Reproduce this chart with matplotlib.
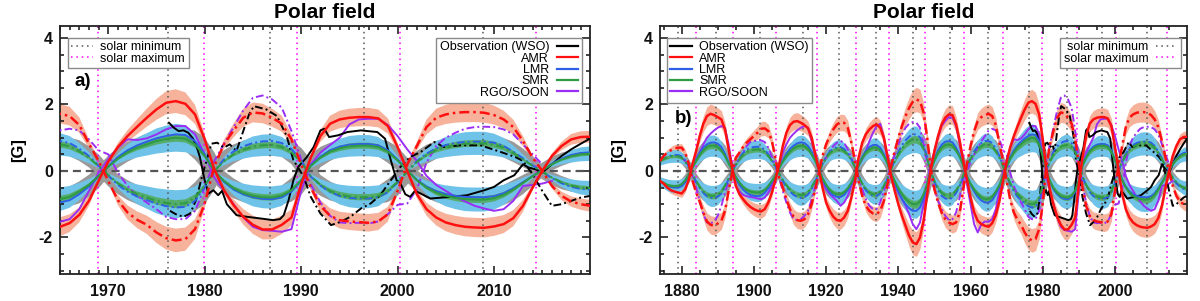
import numpy as np
import matplotlib
matplotlib.use("Agg")
import matplotlib.pyplot as plt
from matplotlib.ticker import MultipleLocator
from matplotlib.lines import Line2D

plt.rcParams['font.family'] = ['Liberation Sans', 'DejaVu Sans']
plt.rcParams['font.weight'] = 'bold'
plt.rcParams['axes.unicode_minus'] = False

nan = np.nan
years = np.arange(1874, 2021)

# AMR, north (solid) and south (dash-dot)
amr_n = [-0.30, -0.38, -0.50, -0.58, -0.62, -0.65,
         -0.68, -0.55, -0.25, 0.20, 0.60, 1.05, 1.42, 1.65, 1.72, 1.68,
         1.62, 1.55, 1.25, 0.65, 0.08, -0.45, -0.70, -0.85, -0.98, -1.08,
         -1.15, -1.20, -1.22, -1.15, -0.95, -0.65, -0.25, 0.20, 0.75, 1.15,
         1.38, 1.48, 1.50, 1.45, 1.38, 1.28, 1.00, 0.50, 0.05, -0.50,
         -0.95, -1.20, -1.38, -1.48, -1.50, -1.40, -1.20, -0.80, -0.30, 0.40,
         0.85, 1.10, 1.25, 1.35, 1.40, 1.30, 1.00, 0.45, -0.15, -0.60,
         -1.00, -1.35, -1.65, -1.95, -2.15, -2.20, -2.00, -1.50, -0.70, 0.05,
         0.60, 1.05, 1.40, 1.60, 1.70, 1.68, 1.40, 0.90, 0.30, -0.25,
         -0.80, -1.25, -1.50, -1.60, -1.65, -1.68, -1.57, -1.32, -0.90, -0.30,
         0.28, 0.72, 1.05, 1.33, 1.60, 1.85, 2.05, 2.10, 2.02, 1.70,
         0.95, 0.05, -0.58, -1.03, -1.38, -1.62, -1.76, -1.76, -1.62, -1.40,
         -0.40, 0.40, 1.05, 1.42, 1.55, 1.60, 1.62, 1.62, 1.58, 1.35,
         0.72, 0.00, -0.70, -1.15, -1.40, -1.55, -1.63, -1.68, -1.70, -1.71,
         -1.67, -1.60, -1.42, -1.05, -0.50, 0.00, 0.45, 0.75, 0.95, 1.02,
         1.03]
amr_s = [0.30, 0.45, 0.55, 0.62, 0.68, 0.70,
         0.70, 0.55, 0.20, -0.30, -0.65, -0.92, -1.25, -1.52, -1.62, -1.65,
         -1.58, -1.50, -1.20, -0.60, -0.05, 0.40, 0.55, 0.72, 0.85, 0.95,
         1.05, 1.15, 1.27, 1.28, 1.20, 0.90, 0.35, -0.20, -0.50, -0.85,
         -1.15, -1.38, -1.48, -1.50, -1.45, -1.30, -1.00, -0.55, -0.05, 0.45,
         0.80, 1.05, 1.25, 1.40, 1.46, 1.45, 1.30, 0.85, 0.30, -0.30,
         -0.75, -1.05, -1.20, -1.28, -1.30, -1.20, -0.90, -0.40, 0.15, 0.60,
         1.00, 1.35, 1.65, 1.90, 2.08, 2.15, 2.10, 1.75, 1.00, 0.05,
         -0.55, -0.95, -1.25, -1.45, -1.55, -1.60, -1.55, -1.25, -0.55, 0.20,
         0.75, 1.20, 1.50, 1.62, 1.68, 1.72, 1.65, 1.38, 0.82, 0.30,
         -0.30, -0.88, -1.25, -1.47, -1.62, -1.85, -2.02, -2.09, -2.05, -1.75,
         -0.98, 0.15, 0.80, 1.22, 1.60, 1.76, 1.73, 1.60, 1.42, 0.95,
         0.20, -0.50, -1.05, -1.35, -1.48, -1.52, -1.54, -1.56, -1.52, -1.30,
         -0.60, 0.20, 0.75, 1.32, 1.60, 1.70, 1.75, 1.77, 1.77, 1.75,
         1.68, 1.55, 1.32, 0.90, 0.40, 0.00, -0.45, -0.75, -0.92, -1.00,
         -1.05]

# LMR
lmr_n = [-0.30, -0.38, -0.44, -0.48, -0.50, -0.50,
         -0.46, -0.34, -0.14, 0.12, 0.35, 0.55, 0.70, 0.80, 0.85, 0.86,
         0.82, 0.72, 0.52, 0.26, 0.03, -0.22, -0.42, -0.56, -0.66, -0.72,
         -0.75, -0.76, -0.74, -0.66, -0.52, -0.34, -0.14, 0.10, 0.32, 0.52,
         0.66, 0.76, 0.83, 0.86, 0.84, 0.75, 0.58, 0.34, 0.06, -0.25,
         -0.47, -0.63, -0.73, -0.78, -0.78, -0.72, -0.58, -0.38, -0.13, 0.17,
         0.42, 0.60, 0.72, 0.78, 0.78, 0.70, 0.50, 0.25, -0.08, -0.36,
         -0.62, -0.84, -1.00, -1.12, -1.20, -1.20, -1.10, -0.84, -0.45, 0.03,
         0.36, 0.62, 0.79, 0.88, 0.90, 0.86, 0.70, 0.47, 0.17, -0.17,
         -0.42, -0.62, -0.78, -0.89, -0.95, -0.95, -0.88, -0.70, -0.47, -0.17,
         0.14, 0.42, 0.62, 0.77, 0.88, 0.98, 1.05, 1.10, 1.08, 0.90,
         0.50, 0.00, -0.33, -0.56, -0.70, -0.79, -0.84, -0.85, -0.79, -0.62,
         -0.30, 0.17, 0.43, 0.62, 0.73, 0.79, 0.81, 0.81, 0.77, 0.62,
         0.34, 0.02, -0.27, -0.47, -0.61, -0.70, -0.75, -0.78, -0.79, -0.79,
         -0.76, -0.67, -0.52, -0.34, -0.15, 0.02, 0.22, 0.37, 0.48, 0.54,
         0.56]
lmr_s = [0.30, 0.37, 0.42, 0.46, 0.48, 0.48,
         0.44, 0.32, 0.13, -0.12, -0.33, -0.52, -0.66, -0.76, -0.80, -0.81,
         -0.77, -0.68, -0.49, -0.25, -0.03, 0.21, 0.40, 0.54, 0.64, 0.70,
         0.72, 0.73, 0.71, 0.64, 0.50, 0.33, 0.13, -0.10, -0.30, -0.49,
         -0.62, -0.72, -0.78, -0.81, -0.79, -0.71, -0.55, -0.32, -0.06, 0.23,
         0.43, 0.58, 0.67, 0.72, 0.72, 0.66, 0.54, 0.35, 0.12, -0.16,
         -0.40, -0.58, -0.69, -0.75, -0.75, -0.67, -0.48, -0.24, 0.07, 0.33,
         0.57, 0.77, 0.92, 1.03, 1.10, 1.10, 1.01, 0.77, 0.41, -0.03,
         -0.34, -0.58, -0.75, -0.83, -0.85, -0.81, -0.66, -0.45, -0.16, 0.16,
         0.40, 0.59, 0.74, 0.84, 0.90, 0.90, 0.84, 0.67, 0.45, 0.16,
         -0.14, -0.42, -0.62, -0.77, -0.88, -0.98, -1.06, -1.10, -1.08, -0.90,
         -0.50, 0.00, 0.35, 0.59, 0.74, 0.84, 0.89, 0.90, 0.84, 0.66,
         0.32, -0.17, -0.44, -0.63, -0.75, -0.81, -0.83, -0.83, -0.79, -0.64,
         -0.35, -0.02, 0.30, 0.52, 0.68, 0.78, 0.84, 0.87, 0.88, 0.88,
         0.85, 0.75, 0.58, 0.38, 0.17, -0.02, -0.22, -0.37, -0.48, -0.54,
         -0.56]

# SMR
smr_n = [-0.30, -0.36, -0.42, -0.45, -0.46, -0.45,
         -0.40, -0.28, -0.10, 0.10, 0.30, 0.48, 0.62, 0.72, 0.76, 0.76,
         0.72, 0.62, 0.45, 0.22, 0.03, -0.18, -0.35, -0.48, -0.57, -0.62,
         -0.64, -0.65, -0.63, -0.57, -0.45, -0.30, -0.12, 0.08, 0.28, 0.45,
         0.58, 0.68, 0.74, 0.76, 0.74, 0.66, 0.50, 0.30, 0.05, -0.22,
         -0.42, -0.57, -0.66, -0.70, -0.70, -0.64, -0.52, -0.35, -0.12, 0.15,
         0.38, 0.55, 0.65, 0.70, 0.70, 0.62, 0.45, 0.22, -0.06, -0.30,
         -0.52, -0.70, -0.84, -0.94, -1.00, -1.00, -0.92, -0.70, -0.38, 0.02,
         0.32, 0.55, 0.70, 0.78, 0.80, 0.76, 0.62, 0.42, 0.15, -0.15,
         -0.38, -0.56, -0.70, -0.80, -0.85, -0.85, -0.78, -0.62, -0.42, -0.15,
         0.12, 0.37, 0.56, 0.70, 0.80, 0.90, 0.96, 1.00, 0.97, 0.80,
         0.45, 0.00, -0.30, -0.52, -0.66, -0.75, -0.79, -0.80, -0.74, -0.58,
         -0.28, 0.15, 0.40, 0.58, 0.68, 0.74, 0.76, 0.76, 0.72, 0.58,
         0.32, 0.02, -0.28, -0.50, -0.65, -0.75, -0.81, -0.85, -0.86, -0.86,
         -0.82, -0.72, -0.56, -0.36, -0.16, 0.02, 0.20, 0.34, 0.44, 0.50,
         0.52]
smr_s = [0.30, 0.36, 0.41, 0.44, 0.45, 0.44,
         0.40, 0.28, 0.10, -0.10, -0.30, -0.48, -0.62, -0.71, -0.75, -0.75,
         -0.71, -0.61, -0.44, -0.22, -0.03, 0.18, 0.35, 0.48, 0.57, 0.62,
         0.64, 0.65, 0.63, 0.57, 0.45, 0.30, 0.12, -0.08, -0.27, -0.43,
         -0.56, -0.65, -0.71, -0.73, -0.71, -0.63, -0.48, -0.29, -0.05, 0.21,
         0.40, 0.54, 0.62, 0.66, 0.66, 0.60, 0.49, 0.33, 0.11, -0.15,
         -0.38, -0.55, -0.65, -0.70, -0.70, -0.62, -0.45, -0.22, 0.06, 0.29,
         0.50, 0.67, 0.80, 0.89, 0.95, 0.95, 0.87, 0.67, 0.36, -0.02,
         -0.30, -0.52, -0.66, -0.73, -0.75, -0.71, -0.58, -0.40, -0.14, 0.14,
         0.36, 0.53, 0.66, 0.75, 0.80, 0.80, 0.74, 0.59, 0.40, 0.14,
         -0.12, -0.37, -0.56, -0.70, -0.80, -0.90, -0.96, -1.00, -0.97, -0.80,
         -0.45, 0.00, 0.29, 0.50, 0.64, 0.73, 0.77, 0.78, 0.72, 0.56,
         0.27, -0.16, -0.42, -0.60, -0.71, -0.77, -0.79, -0.79, -0.75, -0.60,
         -0.33, -0.02, 0.27, 0.48, 0.63, 0.72, 0.78, 0.82, 0.83, 0.83,
         0.79, 0.70, 0.54, 0.35, 0.15, -0.02, -0.20, -0.34, -0.44, -0.50,
         -0.52]

# RGO/SOON
rgo_n = [nan, nan, nan, nan, nan, nan,
         -0.40, -0.30, -0.10, 0.10, 0.35, 0.55, 0.80, 1.00, 1.12, 1.22,
         1.30, 1.35, 1.30, 0.80, 0.15, -0.45, -0.62, -0.72, -0.76, -0.78,
         -0.80, -0.83, -0.85, -0.80, -0.65, -0.45, -0.15, 0.15, 0.55, 0.80,
         1.00, 1.12, 1.22, 1.30, 1.35, 1.30, 0.90, 0.45, 0.05, -0.35,
         -0.55, -0.70, -0.80, -0.90, -1.05, -0.95, -0.75, -0.45, -0.15, 0.15,
         0.35, 0.60, 0.90, 1.15, 1.35, 1.42, 1.00, 0.30, -0.20, -0.45,
         -0.65, -0.85, -1.05, -1.30, -1.60, -1.75, -1.55, -1.00, -0.35, 0.15,
         0.60, 1.00, 1.35, 1.50, 1.62, 1.60, 1.35, 0.80, 0.20, -0.40,
         -1.00, -1.60, -1.85, -1.60, -1.52, -1.53, -1.45, -1.15, -0.60, -0.05,
         0.35, 0.70, 0.95, 0.93, 0.98, 1.10, 1.25, 1.35, 1.35, 1.10,
         0.50, -0.20, -0.60, -1.00, -1.40, -1.68, -1.78, -1.80, -1.83, -1.75,
         -0.60, 0.20, 0.55, 0.78, 1.00, 1.40, 1.55, 1.57, 1.57, 1.38,
         1.05, 0.65, 0.30, -0.15, -0.42, -0.60, -0.78, -0.92, -1.05, -1.13,
         -1.20, -1.15, -0.90, -0.45, -0.42, -0.38, -0.30, nan, nan, nan,
         nan]
rgo_s = [nan, nan, nan, nan, nan, nan,
         0.40, 0.30, 0.10, -0.15, -0.50, -0.90, -1.30, -1.55, -1.58, -1.52,
         -1.35, -1.05, -0.65, -0.30, 0.00, 0.20, 0.35, 0.55, 0.75, 0.87,
         0.90, 0.92, 0.92, 0.87, 0.70, 0.42, 0.15, -0.20, -0.60, -0.95,
         -1.25, -1.45, -1.48, -1.45, -1.35, -1.20, -0.85, -0.45, -0.10, 0.20,
         0.40, 0.60, 0.75, 0.85, 0.90, 0.85, 0.65, 0.40, 0.10, -0.20,
         -0.55, -0.85, -1.05, -1.15, -1.15, -0.95, -0.60, -0.20, 0.20, 0.50,
         0.80, 1.10, 1.30, 1.42, 1.47, 1.45, 1.30, 0.80, 0.25, -0.20,
         -0.55, -0.90, -1.15, -1.35, -1.48, -1.45, -1.25, -0.80, -0.25, 0.00,
         0.25, 0.50, 0.70, 0.90, 1.05, 1.22, 1.27, 1.22, 0.95, 0.62,
         0.50, -0.05, -0.45, -0.75, -0.95, -1.15, -1.38, -1.45, -1.45, -1.20,
         -0.50, 0.30, 0.82, 1.32, 1.82, 2.20, 2.27, 2.15, 1.90, 1.20,
         0.35, -0.40, -0.95, -1.35, -1.55, -1.57, -1.56, -1.58, -1.52, -1.30,
         -1.02, -0.98, -0.55, 0.25, 0.75, 1.00, 1.15, 1.27, 1.32, 1.33,
         1.32, 1.25, 1.10, 0.80, 0.50, 0.20, nan, nan, nan, nan,
         nan]

# WSO observations
wso_n_t = [1976.3, 1976.8, 1977.3, 1977.8, 1978.3, 1978.8, 1979.2, 1979.5, 1980.0, 1980.4,
           1980.9, 1981.4, 1981.8, 1982.3, 1983.3, 1984.4, 1985.8, 1987.1, 1987.8, 1988.2,
           1988.7, 1989.2, 1989.7, 1990.6, 1991.3, 1992.0, 1992.4, 1992.9, 1993.8, 1994.8,
           1996.2, 1997.9, 1998.7, 1999.3, 1999.9, 2000.3, 2000.8, 2001.3, 2001.8, 2002.4,
           2003.4, 2005.5, 2007.2, 2009.0, 2010.0, 2011.0, 2012.1, 2013.0, 2013.6, 2014.3,
           2015.0, 2016.0, 2017.0, 2018.0, 2019.0, 2020.0]
wso_n = [1.45, 1.30, 1.20, 1.22, 1.15, 0.97, 0.70, 0.42, -0.28, -0.68,
         -0.58, -0.73, -0.60, -1.00, -1.33, -1.38, -1.43, -1.48, -1.45, -1.33,
         -0.88, -0.28, 0.12, 0.42, 0.72, 1.22, 1.27, 1.02, 1.07, 1.17,
         1.22, 1.17, 0.97, 0.32, -0.28, -0.38, -0.70, -0.78, -0.60, -0.68,
         -0.83, -0.78, -0.73, -0.58, -0.48, -0.28, -0.13, 0.20, 0.10, 0.05,
         -0.05, 0.20, 0.45, 0.65, 0.82, 0.98]
wso_s_t = [1976.4, 1977.0, 1977.8, 1978.5, 1979.1, 1979.8, 1980.4, 1980.7, 1981.3, 1982.0,
           1982.6, 1983.3, 1984.0, 1984.6, 1985.1, 1986.0, 1986.4, 1987.5, 1988.5, 1989.2,
           1989.7, 1990.3, 1991.0, 1992.0, 1993.1, 1994.1, 1995.1, 1996.2, 1997.2, 1998.2,
           1999.3, 2000.3, 2001.3, 2002.4, 2003.8, 2004.8, 2006.5, 2008.6, 2010.7, 2012.2,
           2013.0, 2014.0, 2015.0, 2016.0, 2017.0, 2018.0, 2019.0, 2020.0]
wso_s = [-1.20, -1.30, -1.38, -1.28, -0.88, -0.08, 0.52, 0.82, 0.85, 0.70,
         0.80, 0.60, 1.20, 1.70, 1.95, 1.88, 1.85, 1.65, 1.05, 0.32,
         0.10, -0.20, -0.78, -1.28, -1.63, -1.53, -1.38, -1.13, -0.98, -0.73,
         -0.28, 0.12, 0.42, 0.57, 0.87, 0.72, 0.77, 0.77, 0.57, 0.42,
         0.30, -0.10, -0.60, -1.05, -1.00, -0.90, -0.80, -0.75]

sol_min = [1878.9, 1889.6, 1901.7, 1913.6, 1923.6, 1933.8, 1944.2, 1954.3, 1964.9,
           1976.2, 1986.8, 1996.5, 2008.9]
sol_max = [1883.9, 1894.1, 1906.2, 1917.6, 1928.4, 1937.4, 1947.5, 1958.2, 1968.9,
           1979.9, 1989.6, 2000.3, 2014.3]

for s in (amr_n, amr_s, lmr_n, lmr_s, smr_n, smr_s, rgo_n, rgo_s):
    assert len(s) == len(years)
assert len(wso_n) == len(wso_n_t) and len(wso_s) == len(wso_s_t)

amr_n, amr_s, lmr_n, lmr_s, smr_n, smr_s, rgo_n, rgo_s = [
    np.array(s) for s in (amr_n, amr_s, lmr_n, lmr_s, smr_n, smr_s, rgo_n, rgo_s)]

RED = '#ff1010'
SALMON = '#f6b29a'
BLUE = '#2f5fe6'
GREEN = '#2e9b45'
DGREEN = '#55ad6c'
SKY = '#70c3e8'
GREY = '#9a9a9a'
PURPLE = '#9b2ef5'
DD = (0, (4, 1.6, 1, 1.6))


def grey_band(v):
    # spread of the SMR band over neighbouring years (shows up near reversals)
    lo = np.minimum(0.75 * v, 1.25 * v)
    hi = np.maximum(0.75 * v, 1.25 * v)
    lo_p = np.concatenate([lo[:1], lo[:-1]])
    lo_n = np.concatenate([lo[1:], lo[-1:]])
    hi_p = np.concatenate([hi[:1], hi[:-1]])
    hi_n = np.concatenate([hi[1:], hi[-1:]])
    return np.minimum.reduce([lo_p, lo, lo_n]), np.maximum.reduce([hi_p, hi, hi_n])


def panel(ax, xlim, major, minor, tag, tag_y, obs_left):
    ax.set_xlim(*xlim)
    ax.set_ylim(-3.1, 4.36)

    for s in (amr_n, amr_s):
        ax.fill_between(years, s * 0.83, s * 1.17, color=SALMON, lw=0, zorder=1)
    for s in (smr_n, smr_s):
        lo, hi = grey_band(s)
        ax.fill_between(years, lo, hi, color=GREY, lw=0, zorder=1.1)
    for s in (smr_n, smr_s):
        ax.fill_between(years, s * 0.58, s * 1.42, color=SKY, lw=0, zorder=1.2)
    for s in (smr_n, smr_s):
        ax.fill_between(years, s * 0.88, s * 1.12, color=DGREEN, lw=0, zorder=1.3)

    for t in sol_min:
        ax.axvline(t, color='#555555', lw=1.1, ls=(0, (1, 2.5)), zorder=1.5)
    for t in sol_max:
        ax.axvline(t, color='#ff00ff', lw=1.1, ls=(0, (1, 2.5)), zorder=1.5)
    ax.axhline(0, color='#555555', lw=1.6, ls=(0, (3.6, 2.2)), zorder=1.6)

    ax.plot(years, rgo_n, color=PURPLE, lw=1.4, zorder=3)
    ax.plot(years, rgo_s, color=PURPLE, lw=1.4, ls=DD, zorder=3)
    ax.plot(wso_n_t, wso_n, color='black', lw=1.4, zorder=3.1)
    ax.plot(wso_s_t, wso_s, color='black', lw=1.4, ls=DD, zorder=3.1)
    ax.plot(years, lmr_n, color=BLUE, lw=1.4, zorder=3.2)
    ax.plot(years, lmr_s, color=BLUE, lw=1.4, ls=DD, zorder=3.2)
    ax.plot(years, smr_n, color=GREEN, lw=1.5, zorder=3.3)
    ax.plot(years, smr_s, color=GREEN, lw=1.5, ls=DD, zorder=3.3)
    ax.plot(years, amr_n, color=RED, lw=1.8, zorder=3.4)
    ax.plot(years, amr_s, color=RED, lw=1.8, ls=DD, zorder=3.4)

    ax.set_title('Polar field', fontsize=15, fontweight='bold', pad=6)
    ax.set_ylabel('[G]', fontsize=12, fontweight='bold', labelpad=9)
    ax.text(0.028, tag_y, tag, transform=ax.transAxes, fontsize=13.5,
            fontweight='bold', va='baseline', ha='left', zorder=5)

    ax.xaxis.set_major_locator(MultipleLocator(major))
    ax.xaxis.set_minor_locator(MultipleLocator(minor))
    ax.yaxis.set_major_locator(MultipleLocator(2))
    ax.yaxis.set_minor_locator(MultipleLocator(0.5))
    ax.tick_params(which='both', direction='in', top=True, right=True, width=1.1,
                   labelsize=11.5, colors='#111111')
    ax.tick_params(which='major', length=5.5)
    ax.tick_params(which='minor', length=2.8)
    ax.tick_params(axis='x', pad=7)
    ax.tick_params(axis='y', pad=5)
    for sp in ax.spines.values():
        sp.set_linewidth(1.3)
        sp.set_color('#222222')

    obs_h = [Line2D([], [], color=c, lw=1.6) for c in ('black', RED, BLUE, GREEN, PURPLE)]
    obs_l = ['Observation (WSO)', 'AMR', 'LMR', 'SMR', 'RGO/SOON']
    sol_h = [Line2D([], [], color='#555555', lw=1.1, ls=(0, (1, 2.5))),
             Line2D([], [], color='#ff00ff', lw=1.1, ls=(0, (1, 2.5)))]
    sol_l = ['solar minimum', 'solar maximum']
    kw = dict(prop={'size': 9, 'weight': 'normal'}, frameon=True, fancybox=False,
              edgecolor='#8a8a8a', framealpha=1, borderpad=0.3, labelspacing=-0.05,
              handlelength=1.7, handletextpad=0.6, borderaxespad=0)
    w = ax.get_position().width * 1200
    top = 1 - 11.5 / 248
    if obs_left:
        leg1 = ax.legend(obs_h, obs_l, loc='upper left', bbox_to_anchor=(6.5 / w, top), **kw)
        ax.add_artist(leg1)
        leg2 = ax.legend(sol_h, sol_l, loc='upper right', bbox_to_anchor=(1 - 6 / w, top),
                         markerfirst=False, **kw)
    else:
        leg1 = ax.legend(obs_h, obs_l, loc='upper right', bbox_to_anchor=(1 - 8.5 / w, top),
                         markerfirst=False, **kw)
        ax.add_artist(leg1)
        leg2 = ax.legend(sol_h, sol_l, loc='upper left', bbox_to_anchor=(7.7 / w, top), **kw)
    leg1.get_frame().set_linewidth(1.0)
    leg2.get_frame().set_linewidth(1.0)
    leg1.set_zorder(6)
    leg2.set_zorder(6)


fig = plt.figure(figsize=(12, 3.01), dpi=100)
ax1 = fig.add_axes([60 / 1200, 27 / 301, 530 / 1200, 248 / 301])
ax2 = fig.add_axes([660 / 1200, 27 / 301, 527 / 1200, 248 / 301])

panel(ax1, (1965, 2019.95), 10, 1, 'a)', 0.758, obs_left=False)
panel(ax2, (1874, 2019.95), 20, 5, 'b)', 0.609, obs_left=True)

fig.savefig('out.png', dpi=100)
